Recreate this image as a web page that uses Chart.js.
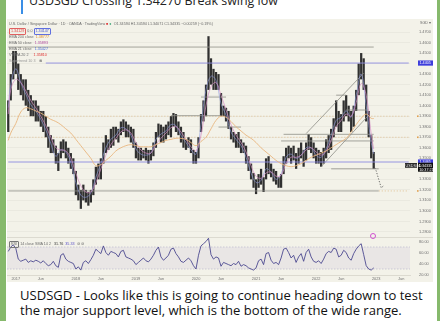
<!DOCTYPE html>
<html><head><meta charset="utf-8">
<script src="https://cdn.jsdelivr.net/npm/chart.js@4.4.1/dist/chart.umd.min.js"></script>
<style>
html,body{margin:0;padding:0;width:440px;height:321px;overflow:hidden;background:#86b96c;}
#card{position:absolute;left:6px;top:0;width:431px;height:321px;background:#ffffff;}
#bar{position:absolute;left:21px;top:0;width:2px;height:14px;background:#3a8ee6;}
#title{position:absolute;left:29px;top:-7px;font:400 15px "Open Sans";line-height:15px;color:#222;white-space:nowrap;}
#shot{position:absolute;left:7px;top:19px;width:426px;height:263px;background:#f3f2e9;}
#main{position:absolute;left:7px;top:19px;width:426px;height:218px;}
#rsi{position:absolute;left:7px;top:237px;width:426px;height:45px;}
#sep{position:absolute;left:7px;top:237px;width:426px;height:1px;background:#dcdad0;}
.cap{position:absolute;left:20px;font:13px "Open Sans";line-height:15px;color:#111;white-space:nowrap;}
.lg{position:absolute;font:3.7px "Liberation Sans";line-height:5px;color:#6a6a6a;white-space:nowrap;}
.bx{display:inline-block;border:0.5px solid;padding:0 1px;border-radius:1px;}
#mark{position:absolute;left:370px;top:233px;width:4px;height:4px;border:1px solid #d050d0;border-radius:50%;}
</style></head>
<body>
<div id="card"></div>
<div id="bar"></div>
<div id="title">USDSGD Crossing 1.34270 Break swing low</div>
<div id="shot"></div>
<canvas id="main" width="426" height="218"></canvas>
<canvas id="rsi" width="426" height="45"></canvas>
<div id="sep"></div>
<div class="lg" style="left:9px;top:21.5px">U.S. Dollar / Singapore Dollar · 1D · OANDA · TradingView <span style="color:#e04040">■</span> <span style="color:#30a070">●</span> &nbsp;O1.34594 H1.34594 L1.34071 C1.34335 −0.00259 (−0.19%)</div>
<div class="lg" style="left:9px;top:27.5px"><span class="bx" style="border-color:#e06060;color:#e04040">1.34129</span> 0.0 <span class="bx" style="border-color:#6070e0;color:#4050d0">1.34147</span></div>
<div class="lg" style="left:9px;top:34.5px">EMA 200 close &nbsp;<span style="color:#e0902a">1.38777</span></div>
<div class="lg" style="left:9px;top:40.5px">EMA 50 close &nbsp;&nbsp;<span style="color:#b04aa0">1.35893</span></div>
<div class="lg" style="left:9px;top:46.5px">EMA 21 close &nbsp;&nbsp;<span style="color:#4a6ad8">1.35427</span></div>
<div class="lg" style="left:9px;top:52.5px">VWMA 20 2 &nbsp;&nbsp;&nbsp;&nbsp;<span style="color:#e03030">1.35810</span></div>
<div class="lg" style="left:9px;top:58.5px;color:#999">Supertrend 10 3 &nbsp;&nbsp;<span style="color:#555">⊗</span></div>
<div class="lg" style="left:420px;top:21px">SGD ▾</div>
<div class="lg" style="left:9px;top:241px"><span class="bx" style="border-color:#777">RSI</span> 14 close SMA 14 2 &nbsp; <span style="color:#333">31.76</span> &nbsp;<span style="color:#5a50c8">35.33</span> &nbsp;⊘ ⊘</div>
<div id="mark"></div>
<div class="cap" id="cap1" style="top:288px">USDSGD - Looks like this is going to continue heading down to test</div>
<div class="cap" id="cap2" style="top:303px">the major support level, which is the bottom of the wide range.</div>
<script>
// ---------- categories: half-month periods ----------
const periods = [];
for (let y = 2016; y <= 2023; y++) for (let m = 1; m <= 12; m++) for (const h of ['a', 'b']) {
  const key = y + '-' + String(m).padStart(2, '0') + h;
  if (key >= '2016-11b' && key <= '2023-07b') periods.push(key);
}

// ---------- price ranges (half-month low / high) ----------
const lows = [
  1.375,1.405,1.425,1.430,1.415,1.410,1.405,1.400,1.395,1.390,
  1.390,1.385,1.385,1.380,1.375,1.370,1.360,1.355,1.355,1.345,
  1.338,1.350,1.355,1.350,1.345,1.340,1.335,1.315,1.310,1.302,
  1.310,1.308,1.305,1.308,1.315,1.325,1.330,1.330,1.345,1.355,
  1.358,1.360,1.362,1.368,1.365,1.372,1.375,1.370,1.370,1.365,
  1.360,1.350,1.348,1.348,1.350,1.348,1.345,1.348,1.352,1.360,
  1.370,1.365,1.365,1.368,1.372,1.370,1.380,1.375,1.372,1.365,
  1.360,1.358,1.360,1.355,1.345,1.345,1.350,1.375,1.385,1.390,
  1.415,1.420,1.415,1.415,1.415,1.390,1.390,1.385,1.378,1.368,
  1.365,1.360,1.360,1.355,1.355,1.345,1.338,1.330,1.322,1.316,
  1.322,1.325,1.318,1.330,1.335,1.332,1.328,1.325,1.322,1.322,
  1.335,1.345,1.350,1.345,1.348,1.340,1.345,1.350,1.342,1.348,
  1.358,1.355,1.350,1.345,1.345,1.342,1.345,1.350,1.355,1.358,
  1.370,1.380,1.375,1.375,1.385,1.390,1.385,1.375,1.380,1.395,
  1.410,1.425,1.415,1.385,1.370,1.350,1.340
];
const highs = [
  1.405,1.430,1.452,1.452,1.440,1.430,1.425,1.425,1.415,1.410,
  1.405,1.405,1.400,1.395,1.395,1.390,1.380,1.372,1.368,1.362,
  1.355,1.366,1.368,1.366,1.360,1.355,1.350,1.338,1.325,1.320,
  1.325,1.320,1.318,1.320,1.330,1.342,1.345,1.350,1.365,1.372,
  1.368,1.378,1.380,1.380,1.378,1.385,1.387,1.385,1.382,1.380,
  1.378,1.365,1.360,1.360,1.358,1.360,1.358,1.358,1.365,1.375,
  1.383,1.382,1.380,1.382,1.385,1.390,1.393,1.392,1.385,1.380,
  1.375,1.368,1.370,1.368,1.358,1.356,1.370,1.392,1.405,1.420,
  1.466,1.445,1.435,1.432,1.430,1.412,1.400,1.398,1.395,1.380,
  1.375,1.373,1.375,1.368,1.365,1.362,1.352,1.345,1.336,1.330,
  1.335,1.340,1.332,1.350,1.352,1.345,1.340,1.338,1.332,1.335,
  1.352,1.360,1.362,1.360,1.362,1.355,1.360,1.365,1.358,1.365,
  1.373,1.370,1.365,1.360,1.358,1.356,1.360,1.368,1.372,1.378,
  1.388,1.405,1.395,1.392,1.405,1.410,1.400,1.395,1.400,1.415,
  1.440,1.450,1.445,1.420,1.395,1.372,1.356
];

// ---------- moving averages (start, monthly, last bar) ----------
const emaDates = ['2016-11b'].concat(periods.filter(p => p.endsWith('a') && p >= '2016-12a' && p <= '2022-12a'), ['2022-12b']);
const ema200 = [1.367, 1.374,
  1.383,1.394,1.398,1.397,1.395,1.393,1.390,1.387,1.385,1.382,1.378,1.374,
  1.368,1.362,1.356,1.350,1.343,1.344,1.348,1.352,1.357,1.360,1.362,1.363,
  1.362,1.361,1.361,1.361,1.363,1.365,1.367,1.368,1.369,1.369,1.368,1.365,
  1.362,1.366,1.370,1.378,1.386,1.390,1.389,1.385,1.380,1.376,1.372,1.369,
  1.365,1.360,1.356,1.352,1.348,1.345,1.343,1.342,1.343,1.345,1.348,1.351,
  1.353,1.355,1.357,1.360,1.363,1.366,1.369,1.375,1.382,1.388,1.392,1.388,
  1.3878];
const ema50 = [1.392, 1.415,
  1.425,1.422,1.414,1.405,1.398,1.390,1.381,1.370,1.360,1.358,1.357,1.350,
  1.336,1.324,1.318,1.318,1.327,1.340,1.353,1.363,1.369,1.375,1.377,1.374,
  1.365,1.358,1.355,1.355,1.363,1.369,1.374,1.379,1.380,1.375,1.368,1.361,
  1.357,1.372,1.400,1.418,1.422,1.410,1.396,1.382,1.372,1.365,1.356,1.343,
  1.333,1.331,1.336,1.337,1.333,1.334,1.345,1.351,1.351,1.353,1.358,1.360,
  1.356,1.353,1.357,1.367,1.380,1.386,1.392,1.390,1.403,1.421,1.410,1.373,
  1.3589];
const ema21 = [1.398, 1.420,
  1.435,1.422,1.411,1.401,1.395,1.387,1.377,1.364,1.352,1.358,1.356,1.346,
  1.327,1.315,1.313,1.317,1.332,1.345,1.360,1.368,1.372,1.379,1.378,1.372,
  1.359,1.354,1.353,1.355,1.368,1.373,1.376,1.382,1.381,1.372,1.365,1.358,
  1.354,1.382,1.415,1.428,1.424,1.402,1.391,1.375,1.368,1.362,1.351,1.336,
  1.327,1.329,1.340,1.337,1.330,1.335,1.351,1.354,1.350,1.353,1.360,1.360,
  1.353,1.351,1.359,1.372,1.386,1.389,1.395,1.389,1.410,1.430,1.400,1.365,
  1.3543];

// ---------- RSI (half-month) ----------
const rsi = [
  62,70,74,68,48,44,46,48,42,45,
  43,46,44,41,45,40,36,38,44,36,
  33,55,58,48,44,42,40,30,34,28,
  42,45,40,47,55,66,62,58,72,60,
  55,62,60,58,52,62,64,52,50,48,
  45,38,42,46,50,45,43,48,55,64,
  70,52,46,50,55,66,68,58,52,44,
  42,46,50,45,36,30,55,72,76,80,
  86,56,48,52,50,35,42,40,38,36,
  40,38,44,35,38,36,32,30,28,32,
  45,48,38,58,60,46,40,42,38,50,
  66,68,60,50,55,42,52,58,44,60,
  66,52,44,42,45,40,48,58,62,60,
  68,66,52,55,64,60,50,46,58,66,
  72,76,56,36,30,28,32
];
const rsiLevels = [70, 30];
const rsiTicks = [20, 40, 60, 80];

// ---------- drawings ----------
const greyLevels = [
  [1.4557, '2016-11b', '2022-12b'],
  [1.3190, '2016-11b', '2023-01b'],
  [1.3400, '2022-04a', '2023-01b'],
  [1.3905, '2019-08a', '2020-06a'],
  [1.4082, '2020-02a', '2020-07a'],
  [1.3797, '2020-05b', '2020-10a'],
  [1.3728, '2021-06b', '2022-12b'],
  [1.3665, '2021-06a', '2022-12b'],
  [1.3959, '2022-07a', '2022-11b'],
  [1.4100, '2022-05a', '2022-07a']
];
const blueLevels = [
  [1.4405, '2017-07a', '2023-07b'],
  [1.3465, '2016-11b', '2023-07b']
];
const dottedLevels = [
  [1.3900, '2016-11b', '2023-07b'],
  [1.3700, '2016-11b', '2023-07b'],
  [1.3190, '2023-01b', '2023-07b']
];
const channelUpper = [['2021-11a', 1.3735], ['2022-10b', 1.4310]];
const channelLower = [['2022-02a', 1.3420], ['2022-11b', 1.3910]];
const projection = [['2022-12b', 1.3434], ['2023-01a', 1.3380], ['2023-02a', 1.3220], ['2023-02b', 1.3240]];
const lastClose = 1.34335;
const priceTicks = [1.28,1.29,1.30,1.31,1.32,1.33,1.34,1.35,1.36,1.37,1.38,1.39,1.40,1.41,1.42,1.43,1.44,1.45,1.46,1.47];

// ---------- build ----------
const seg = (lv) => [{x: lv[1], y: lv[0]}, {x: lv[2], y: lv[0]}];
const lineDs = (data, color, w, dash, order) => ({type: 'line', data, borderColor: color, borderWidth: w, borderDash: dash || [], pointRadius: 0, fill: false, tension: 0, order: order || 2});

const datasets = [
  {type: 'bar', data: lows.map((l, i) => [l, highs[i]]), backgroundColor: '#303030', borderWidth: 0, barPercentage: 0.9, categoryPercentage: 1, order: 10}
];
dottedLevels.forEach(l => datasets.push(lineDs(seg(l), 'rgba(215,165,95,0.75)', 0.7, [1.2, 1.8], 12)));
greyLevels.forEach(l => datasets.push(lineDs(seg(l), '#8e8e86', 0.8, null, 3)));
blueLevels.forEach(l => datasets.push(lineDs(seg(l), '#8d8be0', 0.9, null, 3)));
datasets.push(lineDs(channelUpper.map(p => ({x: p[0], y: p[1]})), '#8e8e86', 0.8, null, 3));
datasets.push(lineDs(channelLower.map(p => ({x: p[0], y: p[1]})), '#8e8e86', 0.8, null, 3));
datasets.push(lineDs(projection.map(p => ({x: p[0], y: p[1]})), '#444', 0.8, [1.2, 1.6], 3));
datasets.push(Object.assign(lineDs(emaDates.map((d, i) => ({x: d, y: ema200[i]})), '#e9b57e', 0.9, null, 1), {tension: 0.4}));
datasets.push(Object.assign(lineDs(emaDates.map((d, i) => ({x: d, y: ema50[i]})), '#d48cc4', 0.7, null, 1), {tension: 0.4}));
datasets.push(Object.assign(lineDs(emaDates.map((d, i) => ({x: d, y: ema21[i]})), '#8f9be0', 0.6, null, 1), {tension: 0.4}));

const AXIS_W = 23;
const tagPlugin = {
  id: 'tags',
  afterDraw(chart) {
    const {ctx, chartArea: ca, scales: {y}} = chart;
    ctx.save();
    ctx.font = '3.7px "Liberation Sans"';
    ctx.textBaseline = 'middle';
    ctx.textAlign = 'left';
    dottedLevels.forEach(l => {
      const py = y.getPixelForValue(l[0]);
      ctx.fillStyle = '#e0a050';
      ctx.fillRect(ca.right + 7, py - 0.8, 1.6, 1.6);
    });
    blueLevels.forEach(l => {
      const py = y.getPixelForValue(l[0]);
      ctx.fillStyle = '#3d3ddc';
      ctx.fillRect(ca.right + 8, py - 2.6, 15, 5.2);
      ctx.fillStyle = '#fff';
      ctx.fillText(l[0].toFixed(4), ca.right + 9.5, py + 0.2);
    });
    const pc = y.getPixelForValue(lastClose);
    ctx.fillStyle = '#111';
    ctx.fillRect(ca.right + 8, pc - 2.6, 15, 9);
    ctx.fillRect(ca.right - 5, pc - 2.2, 12, 4.6);
    ctx.fillStyle = '#fff';
    ctx.fillText(lastClose.toFixed(5), ca.right + 8.8, pc + 0.2);
    ctx.fillText('10:37:21', ca.right + 9.2, pc + 4.2);
    ctx.fillText('USDSGD', ca.right - 4.4, pc + 0.2);
    ctx.restore();
  }
};

new Chart(document.getElementById('main'), {
  type: 'bar',
  data: {labels: periods, datasets},
  options: {
    responsive: false, animation: false, events: [],
    layout: {padding: 0},
    plugins: {legend: {display: false}, tooltip: {enabled: false}},
    scales: {
      x: {display: false, offset: true},
      y: {
        position: 'right', min: 1.27525, max: 1.48235,
        afterBuildTicks: s => { s.ticks = priceTicks.map(v => ({value: v})); },
        afterFit: s => { s.width = AXIS_W; s.paddingTop = 0; s.paddingBottom = 0; },
        ticks: {font: {size: 3.9, family: 'Liberation Sans'}, color: '#707070', padding: 9, callback: v => v.toFixed(4)},
        grid: {color: 'rgba(0,0,0,0.035)', drawTicks: false},
        border: {display: false}
      }
    }
  },
  plugins: [tagPlugin]
});

const bandPlugin = {
  id: 'band',
  beforeDatasetsDraw(chart) {
    const {ctx, chartArea: ca, scales: {y}} = chart;
    const y1 = y.getPixelForValue(rsiLevels[0]), y2 = y.getPixelForValue(rsiLevels[1]);
    ctx.save();
    ctx.fillStyle = 'rgba(150,130,200,0.10)';
    ctx.fillRect(ca.left, y1, ca.right - ca.left, y2 - y1);
    ctx.strokeStyle = '#b5aecb';
    ctx.lineWidth = 0.6;
    ctx.setLineDash([1.5, 1.5]);
    [y1, y2].forEach(py => { ctx.beginPath(); ctx.moveTo(ca.left, py); ctx.lineTo(ca.right, py); ctx.stroke(); });
    ctx.restore();
  }
};

new Chart(document.getElementById('rsi'), {
  type: 'line',
  data: {labels: periods, datasets: [
    {data: rsi, borderColor: '#4c4890', borderWidth: 0.9, pointRadius: 0, tension: 0, fill: false}
  ]},
  options: {
    responsive: false, animation: false, events: [],
    layout: {padding: 0},
    plugins: {legend: {display: false}, tooltip: {enabled: false}},
    scales: {
      x: {
        offset: true,
        afterBuildTicks: s => { s.ticks = s.ticks.filter(t => { const p = periods[t.value]; return p.endsWith('-01a') || p.endsWith('-06a'); }); },
        afterFit: s => { s.height = 7; s.paddingLeft = 0; s.paddingRight = 0; },
        ticks: {autoSkip: false, maxRotation: 0, font: {size: 3.9, family: 'Liberation Sans'}, color: '#707070', padding: 1.5,
          callback: v => { const p = periods[v]; return p.endsWith('-01a') ? p.slice(0, 4) : 'Jun'; }},
        grid: {display: false, drawTicks: false},
        border: {color: '#dcdad0'}
      },
      y: {
        position: 'right', min: 19.1, max: 88.2,
        afterBuildTicks: s => { s.ticks = rsiTicks.map(v => ({value: v})); },
        afterFit: s => { s.width = AXIS_W; s.paddingTop = 0; s.paddingBottom = 0; },
        ticks: {font: {size: 3.9, family: 'Liberation Sans'}, color: '#707070', padding: 9, callback: v => v.toFixed(2)},
        grid: {display: false, drawTicks: false},
        border: {display: false}
      }
    }
  },
  plugins: [bandPlugin]
});

function fitWidth(el, target) {
  const w = el.getBoundingClientRect().width;
  const fs = parseFloat(getComputedStyle(el).fontSize);
  el.style.fontSize = (fs * target / w).toFixed(2) + 'px';
}
fitWidth(document.getElementById('cap1'), 403);
document.getElementById('cap2').style.fontSize = document.getElementById('cap1').style.fontSize;
fitWidth(document.getElementById('title'), 249);
</script>
</body></html>
